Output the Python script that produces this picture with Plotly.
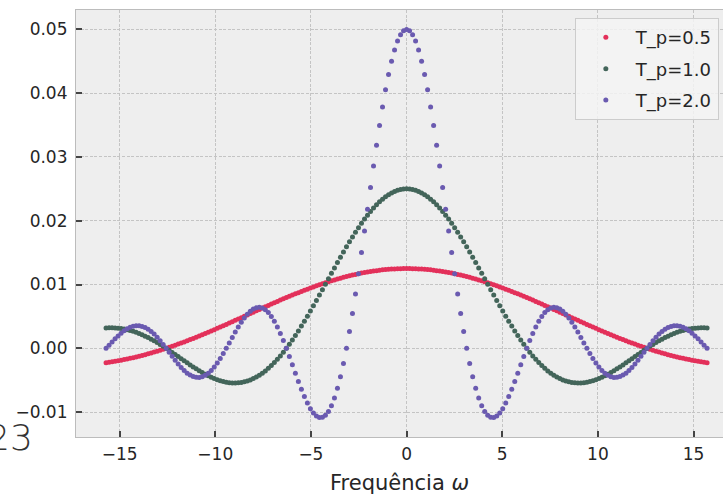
import plotly.graph_objects as go

# Frequency samples (omega)
omega = [
    -15.70796, -15.55088, -15.39380, -15.23672, -15.07964, -14.92257, -14.76549, -14.60841, -14.45133, -14.29425,
    -14.13717, -13.98009, -13.82301, -13.66593, -13.50885, -13.35177, -13.19469, -13.03761, -12.88053, -12.72345,
    -12.56637, -12.40929, -12.25221, -12.09513, -11.93805, -11.78097, -11.62389, -11.46681, -11.30973, -11.15265,
    -10.99557, -10.83849, -10.68142, -10.52434, -10.36726, -10.21018, -10.05310, -9.89602, -9.73894, -9.58186,
    -9.42478, -9.26770, -9.11062, -8.95354, -8.79646, -8.63938, -8.48230, -8.32522, -8.16814, -8.01106,
    -7.85398, -7.69690, -7.53982, -7.38274, -7.22566, -7.06858, -6.91150, -6.75442, -6.59734, -6.44026,
    -6.28319, -6.12611, -5.96903, -5.81195, -5.65487, -5.49779, -5.34071, -5.18363, -5.02655, -4.86947,
    -4.71239, -4.55531, -4.39823, -4.24115, -4.08407, -3.92699, -3.76991, -3.61283, -3.45575, -3.29867,
    -3.14159, -2.98451, -2.82743, -2.67035, -2.51327, -2.35619, -2.19911, -2.04204, -1.88496, -1.72788,
    -1.57080, -1.41372, -1.25664, -1.09956, -0.94248, -0.78540, -0.62832, -0.47124, -0.31416, -0.15708,
    0.0,
    0.15708, 0.31416, 0.47124, 0.62832, 0.78540, 0.94248, 1.09956, 1.25664, 1.41372, 1.57080,
    1.72788, 1.88496, 2.04204, 2.19911, 2.35619, 2.51327, 2.67035, 2.82743, 2.98451, 3.14159,
    3.29867, 3.45575, 3.61283, 3.76991, 3.92699, 4.08407, 4.24115, 4.39823, 4.55531, 4.71239,
    4.86947, 5.02655, 5.18363, 5.34071, 5.49779, 5.65487, 5.81195, 5.96903, 6.12611, 6.28319,
    6.44026, 6.59734, 6.75442, 6.91150, 7.06858, 7.22566, 7.38274, 7.53982, 7.69690, 7.85398,
    8.01106, 8.16814, 8.32522, 8.48230, 8.63938, 8.79646, 8.95354, 9.11062, 9.26770, 9.42478,
    9.58186, 9.73894, 9.89602, 10.05310, 10.21018, 10.36726, 10.52434, 10.68142, 10.83849, 10.99557,
    11.15265, 11.30973, 11.46681, 11.62389, 11.78097, 11.93805, 12.09513, 12.25221, 12.40929, 12.56637,
    12.72345, 12.88053, 13.03761, 13.19469, 13.35177, 13.50885, 13.66593, 13.82301, 13.98009, 14.13717,
    14.29425, 14.45133, 14.60841, 14.76549, 14.92257, 15.07964, 15.23672, 15.39380, 15.55088, 15.70796,
]

# T_p = 0.5
y_tp05 = [
    -0.00225, -0.00218, -0.00211, -0.00203, -0.00195, -0.00186, -0.00177, -0.00167, -0.00157, -0.00146,
    -0.00135, -0.00124, -0.00112, -0.00099, -0.00086, -0.00073, -0.00059, -0.00045, -0.00030, -0.00015,
    0.0, 0.00016, 0.00032, 0.00049, 0.00066, 0.00083, 0.00100, 0.00118, 0.00137, 0.00155,
    0.00174, 0.00193, 0.00213, 0.00232, 0.00252, 0.00272, 0.00292, 0.00313, 0.00333, 0.00354,
    0.00375, 0.00396, 0.00417, 0.00439, 0.00460, 0.00481, 0.00503, 0.00524, 0.00545, 0.00567,
    0.00588, 0.00609, 0.00631, 0.00652, 0.00673, 0.00694, 0.00715, 0.00735, 0.00756, 0.00776,
    0.00796, 0.00816, 0.00835, 0.00854, 0.00873, 0.00892, 0.00910, 0.00928, 0.00946, 0.00963,
    0.00980, 0.00997, 0.01013, 0.01029, 0.01044, 0.01059, 0.01073, 0.01087, 0.01100, 0.01113,
    0.01125, 0.01137, 0.01148, 0.01159, 0.01169, 0.01179, 0.01188, 0.01196, 0.01204, 0.01211,
    0.01218, 0.01224, 0.01230, 0.01234, 0.01238, 0.01242, 0.01245, 0.01247, 0.01249, 0.01250,
    0.01250,
    0.01250, 0.01249, 0.01247, 0.01245, 0.01242, 0.01238, 0.01234, 0.01230, 0.01224, 0.01218,
    0.01211, 0.01204, 0.01196, 0.01188, 0.01179, 0.01169, 0.01159, 0.01148, 0.01137, 0.01125,
    0.01113, 0.01100, 0.01087, 0.01073, 0.01059, 0.01044, 0.01029, 0.01013, 0.00997, 0.00980,
    0.00963, 0.00946, 0.00928, 0.00910, 0.00892, 0.00873, 0.00854, 0.00835, 0.00816, 0.00796,
    0.00776, 0.00756, 0.00735, 0.00715, 0.00694, 0.00673, 0.00652, 0.00631, 0.00609, 0.00588,
    0.00567, 0.00545, 0.00524, 0.00503, 0.00481, 0.00460, 0.00439, 0.00417, 0.00396, 0.00375,
    0.00354, 0.00333, 0.00313, 0.00292, 0.00272, 0.00252, 0.00232, 0.00213, 0.00193, 0.00174,
    0.00155, 0.00137, 0.00118, 0.00100, 0.00083, 0.00066, 0.00049, 0.00032, 0.00016, 0.0,
    -0.00015, -0.00030, -0.00045, -0.00059, -0.00073, -0.00086, -0.00099, -0.00112, -0.00124, -0.00135,
    -0.00146, -0.00157, -0.00167, -0.00177, -0.00186, -0.00195, -0.00203, -0.00211, -0.00218, -0.00225,
]

# T_p = 1.0
y_tp10 = [
    0.00318, 0.00321, 0.00321, 0.00319, 0.00315, 0.00310, 0.00302, 0.00292, 0.00280, 0.00266,
    0.00250, 0.00232, 0.00213, 0.00191, 0.00168, 0.00143, 0.00117, 0.00090, 0.00061, 0.00031,
    0.0, -0.00032, -0.00064, -0.00097, -0.00129, -0.00162, -0.00195, -0.00228, -0.00260, -0.00291,
    -0.00322, -0.00351, -0.00379, -0.00405, -0.00430, -0.00452, -0.00473, -0.00491, -0.00507, -0.00520,
    -0.00531, -0.00538, -0.00542, -0.00543, -0.00541, -0.00535, -0.00525, -0.00512, -0.00495, -0.00475,
    -0.00450, -0.00422, -0.00390, -0.00354, -0.00314, -0.00271, -0.00224, -0.00173, -0.00119, -0.00061,
    0.0, 0.00064, 0.00131, 0.00201, 0.00273, 0.00348, 0.00425, 0.00504, 0.00585, 0.00667,
    0.00750, 0.00835, 0.00920, 0.01005, 0.01091, 0.01176, 0.01261, 0.01346, 0.01429, 0.01511,
    0.01592, 0.01670, 0.01747, 0.01821, 0.01892, 0.01961, 0.02026, 0.02088, 0.02146, 0.02200,
    0.02251, 0.02297, 0.02339, 0.02376, 0.02408, 0.02436, 0.02459, 0.02477, 0.02490, 0.02497,
    0.02500,
    0.02497, 0.02490, 0.02477, 0.02459, 0.02436, 0.02408, 0.02376, 0.02339, 0.02297, 0.02251,
    0.02200, 0.02146, 0.02088, 0.02026, 0.01961, 0.01892, 0.01821, 0.01747, 0.01670, 0.01592,
    0.01511, 0.01429, 0.01346, 0.01261, 0.01176, 0.01091, 0.01005, 0.00920, 0.00835, 0.00750,
    0.00667, 0.00585, 0.00504, 0.00425, 0.00348, 0.00273, 0.00201, 0.00131, 0.00064, 0.0,
    -0.00061, -0.00119, -0.00173, -0.00224, -0.00271, -0.00314, -0.00354, -0.00390, -0.00422, -0.00450,
    -0.00475, -0.00495, -0.00512, -0.00525, -0.00535, -0.00541, -0.00543, -0.00542, -0.00538, -0.00531,
    -0.00520, -0.00507, -0.00491, -0.00473, -0.00452, -0.00430, -0.00405, -0.00379, -0.00351, -0.00322,
    -0.00291, -0.00260, -0.00228, -0.00195, -0.00162, -0.00129, -0.00097, -0.00064, -0.00032, 0.0,
    0.00031, 0.00061, 0.00090, 0.00117, 0.00143, 0.00168, 0.00191, 0.00213, 0.00232, 0.00250,
    0.00266, 0.00280, 0.00292, 0.00302, 0.00310, 0.00315, 0.00319, 0.00321, 0.00321, 0.00318,
]

# T_p = 2.0
y_tp20 = [
    0.0, 0.00050, 0.00100, 0.00149, 0.00195, 0.00237, 0.00274, 0.00305, 0.00329, 0.00345,
    0.00354, 0.00353, 0.00344, 0.00326, 0.00299, 0.00265, 0.00223, 0.00174, 0.00120, 0.00061,
    0.0, -0.00063, -0.00126, -0.00188, -0.00246, -0.00300, -0.00348, -0.00389, -0.00420, -0.00443,
    -0.00455, -0.00456, -0.00445, -0.00423, -0.00390, -0.00346, -0.00292, -0.00229, -0.00159, -0.00082,
    0.0, 0.00084, 0.00170, 0.00254, 0.00334, 0.00409, 0.00477, 0.00535, 0.00582, 0.00616,
    0.00637, 0.00642, 0.00631, 0.00603, 0.00560, 0.00500, 0.00425, 0.00336, 0.00234, 0.00121,
    0.0, -0.00128, -0.00259, -0.00391, -0.00520, -0.00643, -0.00757, -0.00859, -0.00946, -0.01014,
    -0.01061, -0.01084, -0.01081, -0.01050, -0.00990, -0.00900, -0.00780, -0.00628, -0.00447, -0.00237,
    0.0, 0.00262, 0.00546, 0.00850, 0.01169, 0.01501, 0.01839, 0.02182, 0.02523, 0.02858,
    0.03183, 0.03493, 0.03784, 0.04052, 0.04292, 0.04502, 0.04677, 0.04817, 0.04918, 0.04979,
    0.05000,
    0.04979, 0.04918, 0.04817, 0.04677, 0.04502, 0.04292, 0.04052, 0.03784, 0.03493, 0.03183,
    0.02858, 0.02523, 0.02182, 0.01839, 0.01501, 0.01169, 0.00850, 0.00546, 0.00262, 0.0,
    -0.00237, -0.00447, -0.00628, -0.00780, -0.00900, -0.00990, -0.01050, -0.01081, -0.01084, -0.01061,
    -0.01014, -0.00946, -0.00859, -0.00757, -0.00643, -0.00520, -0.00391, -0.00259, -0.00128, 0.0,
    0.00121, 0.00234, 0.00336, 0.00425, 0.00500, 0.00560, 0.00603, 0.00631, 0.00642, 0.00637,
    0.00616, 0.00582, 0.00535, 0.00477, 0.00409, 0.00334, 0.00254, 0.00170, 0.00084, 0.0,
    -0.00082, -0.00159, -0.00229, -0.00292, -0.00346, -0.00390, -0.00423, -0.00445, -0.00456, -0.00455,
    -0.00443, -0.00420, -0.00389, -0.00348, -0.00300, -0.00246, -0.00188, -0.00126, -0.00063, 0.0,
    0.00061, 0.00120, 0.00174, 0.00223, 0.00265, 0.00299, 0.00326, 0.00344, 0.00353, 0.00354,
    0.00345, 0.00329, 0.00305, 0.00274, 0.00237, 0.00195, 0.00149, 0.00100, 0.00050, 0.0,
]

series_names = ["T_p=0.5", "T_p=1.0", "T_p=2.0"]
series_values = [y_tp05, y_tp10, y_tp20]
series_colors = ["#E3305A", "#43655A", "#6A5AB0"]

x_ticks = [-15, -10, -5, 0, 5, 10, 15]
x_tick_labels = ["−15", "−10", "−5", "0", "5", "10", "15"]
y_ticks = [-0.01, 0.0, 0.01, 0.02, 0.03, 0.04, 0.05]
y_tick_labels = ["−0.01", "0.00", "0.01", "0.02", "0.03", "0.04", "0.05"]

FONT = "DejaVu Sans"
TXT = "#262626"

fig = go.Figure()
for name, vals, col in zip(series_names, series_values, series_colors):
    fig.add_trace(go.Scatter(
        x=omega, y=vals, mode="markers", name=name, legendgroup=name,
        marker=dict(size=5, color=col, line=dict(width=0)),
    ))

fig.update_layout(
    width=723, height=499,
    margin=dict(l=76, r=0, t=10, b=62, autoexpand=False),
    paper_bgcolor="white",
    plot_bgcolor="#EEEEEE",
    font=dict(family=FONT, size=17, color=TXT),
    showlegend=True,
    legend=dict(
        x=0.771, y=0.981, xanchor="left", yanchor="top",
        bgcolor="rgba(243,243,243,0.85)", bordercolor="#CCCCCC", borderwidth=1,
        font=dict(family=FONT, size=18, color=TXT),
        tracegroupgap=5, itemwidth=50,
    ),
    xaxis=dict(
        range=[-17.279, 16.54],
        tickmode="array", tickvals=x_ticks, ticktext=x_tick_labels,
        ticks="inside", ticklen=6, tickwidth=1.5, tickcolor="#444444",
        showgrid=True, gridcolor="#C4C4C4", griddash="3px,1.6px", gridwidth=1,
        zeroline=False,
        showline=True, linecolor="#BCBCBC", linewidth=1.2, mirror=True,
        ticklabelstandoff=1,
        title=dict(text="Frequência <i>ω</i>", font=dict(family=FONT, size=21, color=TXT), standoff=12),
        tickfont=dict(family=FONT, size=17, color=TXT),
    ),
    yaxis=dict(
        range=[-0.013904, 0.053043],
        tickmode="array", tickvals=y_ticks, ticktext=y_tick_labels,
        ticks="inside", ticklen=6, tickwidth=1.5, tickcolor="#444444",
        showgrid=True, gridcolor="#C4C4C4", griddash="3px,1.6px", gridwidth=1,
        zeroline=False,
        showline=True, linecolor="#BCBCBC", linewidth=1.2, mirror=False,
        ticklabelstandoff=4,
        tickfont=dict(family=FONT, size=17, color=TXT),
    ),
    annotations=[dict(
        text="23", xref="paper", yref="paper", x=-0.064, y=0.0,
        xanchor="right", yanchor="middle", showarrow=False,
        font=dict(family=FONT, size=36, color="#333333", weight=200),
    )],
)

fig.write_html("out.html", config={"displayModeBar": False},
               post_script="document.body.style.margin='0px';")
